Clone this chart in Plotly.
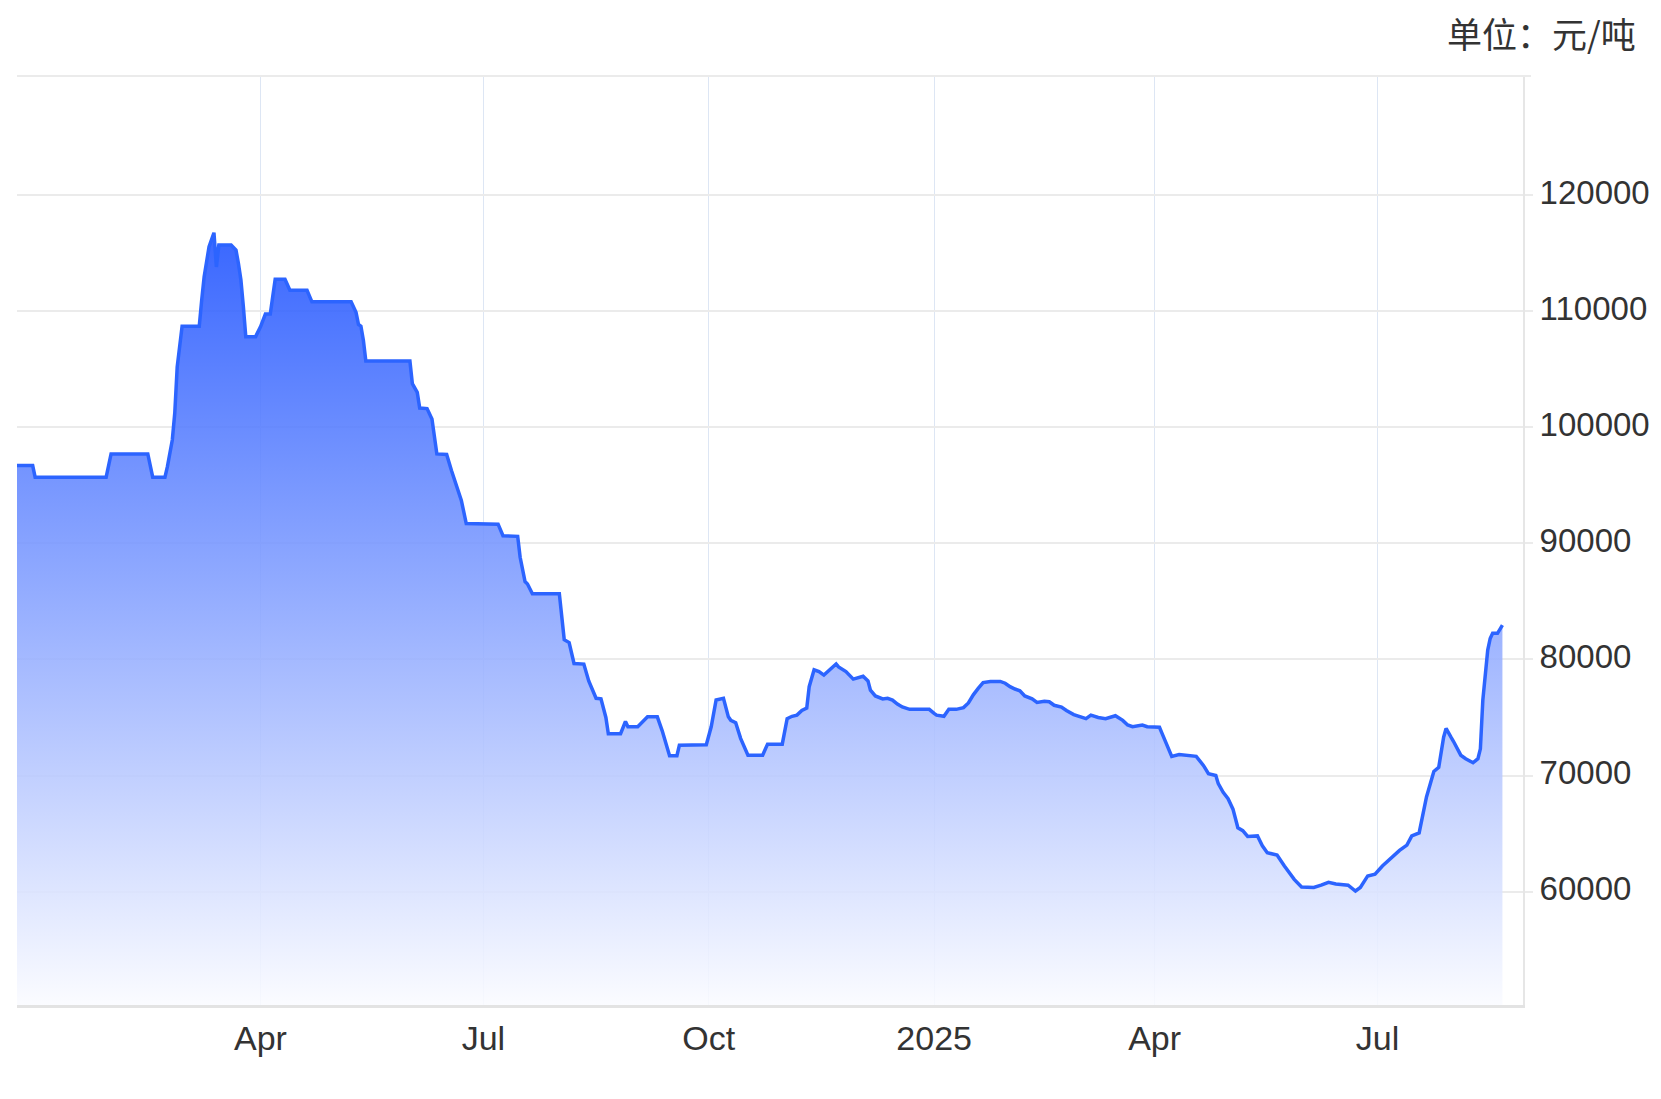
import plotly.graph_objects as go

# ---------------- data ----------------
dates = [
    "2023-12-23", "2023-12-30", "2023-12-31", "2024-01-29", "2024-01-31", "2024-02-15",
    "2024-02-17", "2024-02-22", "2024-02-23", "2024-02-25", "2024-02-26", "2024-02-27",
    "2024-02-29", "2024-03-07", "2024-03-08", "2024-03-09", "2024-03-11", "2024-03-13",
    "2024-03-14", "2024-03-15", "2024-03-20", "2024-03-22", "2024-03-23", "2024-03-24",
    "2024-03-25", "2024-03-26", "2024-03-30", "2024-04-01", "2024-04-03", "2024-04-05",
    "2024-04-06", "2024-04-07", "2024-04-11", "2024-04-13", "2024-04-20", "2024-04-22",
    "2024-05-08", "2024-05-10", "2024-05-11", "2024-05-12", "2024-05-13", "2024-05-14",
    "2024-06-01", "2024-06-02", "2024-06-04", "2024-06-05", "2024-06-08", "2024-06-10",
    "2024-06-12", "2024-06-16", "2024-06-18", "2024-06-20", "2024-06-22", "2024-06-24",
    "2024-07-07", "2024-07-09", "2024-07-15", "2024-07-16", "2024-07-18", "2024-07-19",
    "2024-07-21", "2024-08-01", "2024-08-02", "2024-08-03", "2024-08-05", "2024-08-07",
    "2024-08-11", "2024-08-13", "2024-08-16", "2024-08-18", "2024-08-20", "2024-08-21",
    "2024-08-26", "2024-08-28", "2024-08-29", "2024-09-02", "2024-09-06", "2024-09-10",
    "2024-09-12", "2024-09-15", "2024-09-18", "2024-09-19", "2024-09-30", "2024-10-02",
    "2024-10-04", "2024-10-07", "2024-10-09", "2024-10-10", "2024-10-12", "2024-10-14",
    "2024-10-17", "2024-10-23", "2024-10-25", "2024-10-31", "2024-11-02", "2024-11-04",
    "2024-11-06", "2024-11-08", "2024-11-10", "2024-11-11", "2024-11-13", "2024-11-15",
    "2024-11-17", "2024-11-20", "2024-11-22", "2024-11-23", "2024-11-26", "2024-11-29",
    "2024-12-01", "2024-12-03", "2024-12-05", "2024-12-06", "2024-12-08", "2024-12-11",
    "2024-12-13", "2024-12-15", "2024-12-17", "2024-12-19", "2024-12-22", "2024-12-26",
    "2024-12-30", "2025-01-01", "2025-01-02", "2025-01-05", "2025-01-07", "2025-01-10",
    "2025-01-13", "2025-01-15", "2025-01-17", "2025-01-19", "2025-01-21", "2025-01-24",
    "2025-01-28", "2025-01-30", "2025-02-01", "2025-02-03", "2025-02-05", "2025-02-07",
    "2025-02-10", "2025-02-12", "2025-02-15", "2025-02-17", "2025-02-19", "2025-02-22",
    "2025-02-24", "2025-02-27", "2025-03-02", "2025-03-04", "2025-03-06", "2025-03-09",
    "2025-03-12", "2025-03-14", "2025-03-16", "2025-03-19", "2025-03-21", "2025-03-23",
    "2025-03-27", "2025-03-29", "2025-04-03", "2025-04-04", "2025-04-06", "2025-04-08",
    "2025-04-11", "2025-04-18", "2025-04-21", "2025-04-23", "2025-04-26", "2025-04-27",
    "2025-04-29", "2025-05-01", "2025-05-03", "2025-05-04", "2025-05-05", "2025-05-07",
    "2025-05-09", "2025-05-13", "2025-05-15", "2025-05-17", "2025-05-21", "2025-05-24",
    "2025-05-28", "2025-05-31", "2025-06-05", "2025-06-08", "2025-06-11", "2025-06-14",
    "2025-06-19", "2025-06-22", "2025-06-24", "2025-06-27", "2025-06-30", "2025-07-03",
    "2025-07-06", "2025-07-10", "2025-07-13", "2025-07-15", "2025-07-18", "2025-07-21",
    "2025-07-24", "2025-07-26", "2025-07-28", "2025-07-29", "2025-07-31", "2025-08-01",
    "2025-08-04", "2025-08-06", "2025-08-09", "2025-08-11", "2025-08-12", "2025-08-13",
    "2025-08-15", "2025-08-16", "2025-08-17", "2025-08-19", "2025-08-21",
]

prices = [
    96700, 96700, 95700, 95700, 97700, 97700,
    95700, 95700, 96600, 98900, 101200, 105200,
    108700, 108700, 110950, 112950, 115550, 116750,
    113800, 115700, 115700, 115250, 114100, 112700,
    110400, 107800, 107800, 108650, 109750, 109750,
    111250, 112750, 112750, 111800, 111800, 110800,
    110800, 109900, 108850, 108700, 107500, 105700,
    105700, 103750, 103000, 101650, 101600, 100700,
    97700, 97650, 96250, 94950, 93700, 91700,
    91650, 90650, 90600, 88800, 86700, 86500,
    85650, 85650, 83900, 81700, 81450, 79650,
    79600, 78150, 76650, 76600, 75000, 73600,
    73600, 74650, 74200, 74200, 75050, 75050,
    73850, 71700, 71700, 72600, 72650, 74200,
    76500, 76650, 75050, 74750, 74550, 73200,
    71750, 71750, 72700, 72700, 74900, 75100,
    75200, 75600, 75800, 77650, 79100, 78950,
    78650, 79200, 79600, 79350, 78950, 78300,
    78450, 78550, 78150, 77350, 76850, 76600,
    76650, 76500, 76150, 75900, 75700, 75700,
    75700, 75350, 75200, 75100, 75700, 75700,
    75850, 76250, 76950, 77500, 78000, 78100,
    78100, 77950, 77650, 77450, 77300, 76850,
    76600, 76300, 76400, 76350, 76050, 75900,
    75600, 75250, 75000, 74900, 75200, 75000,
    74900, 75050, 75150, 74750, 74350, 74200,
    74350, 74200, 74150, 73650, 72650, 71650,
    71800, 71650, 70850, 70150, 70000, 69300,
    68550, 68000, 67100, 66400, 65500, 65250,
    64750, 64800, 63950, 63350, 63150, 62200,
    61050, 60400, 60350, 60550, 60800, 60650,
    60550, 60050, 60350, 61350, 61500, 62200,
    62800, 63550, 64000, 64800, 65050, 68150,
    70350, 70700, 73300, 74050, 73300, 72950,
    71750, 71450, 71100, 71450, 72300, 76500,
    80800, 81800, 82250, 82250, 82950,
]

x_tick_vals = ["2024-04-01", "2024-07-01", "2024-10-01", "2025-01-01", "2025-04-01", "2025-07-01"]
x_tick_text = ["Apr", "Jul", "Oct", "2025", "Apr", "Jul"]
y_tick_vals = [60000, 70000, 80000, 90000, 100000, 110000, 120000]
y_tick_text = ["60000", "70000", "80000", "90000", "100000", "110000", "120000"]
unit_label = "单位：元/吨"

x_range = ["2023-12-23 14:24", "2025-08-29 09:36"]
y_range = [50233, 130250]

# ---------------- figure ----------------
FONT_FAMILY = "Liberation Sans, Arial, Helvetica, sans-serif"

fig = go.Figure()
fig.add_trace(go.Scatter(
    x=dates, y=prices, mode="lines",
    line=dict(color="#2c64ff", width=3.5),
    fill="tozeroy",
    fillgradient=dict(
        type="vertical",
        colorscale=[[0, "rgba(250,251,255,0.88)"], [1, "rgba(30,82,255,0.88)"]],
        start=y_range[0], stop=max(prices),
    ),
    hoverinfo="skip", showlegend=False,
))

fig.update_layout(
    width=1645, height=1083,
    margin=dict(l=9, r=130, t=68, b=86, pad=0, autoexpand=False),
    paper_bgcolor="white", plot_bgcolor="white",
    showlegend=False,
    xaxis=dict(
        type="date", range=x_range, automargin=False,
        tickmode="array", tickvals=x_tick_vals, ticktext=x_tick_text,
        showgrid=True, gridcolor="rgba(210,222,240,0.75)", gridwidth=1,
        showline=True, linecolor="#e3e3e3", linewidth=3,
        ticks="", tickfont=dict(family=FONT_FAMILY, size=34, color="#333333"),
        ticklabelstandoff=1,
        zeroline=False, fixedrange=True,
    ),
    yaxis=dict(
        side="right", range=y_range, automargin=False,
        tickmode="array", tickvals=y_tick_vals, ticktext=y_tick_text,
        showgrid=True, gridcolor="#ebebeb", gridwidth=2,
        showline=True, linecolor="#e6e6e6", linewidth=2,
        ticks="outside", ticklen=8, tickcolor="#ebebeb", tickwidth=2,
        tickfont=dict(family=FONT_FAMILY, size=33, color="#333333"),
        ticklabelstandoff=0, ticklabelshift=-3,
        zeroline=False, fixedrange=True,
    ),
    shapes=[dict(
        type="line", xref="paper", yref="paper",
        x0=0, x1=1 + 8 / 1506, y0=1, y1=1,
        line=dict(color="#ebebeb", width=2),
    )],
    annotations=[dict(
        text=unit_label, xref="paper", yref="paper",
        x=1.0764, y=1.0463, xanchor="right", yanchor="middle",
        showarrow=False,
        font=dict(family="Noto Sans CJK SC, sans-serif", size=35, color="#333333"),
    )],
)

fig.write_html("out.html")
